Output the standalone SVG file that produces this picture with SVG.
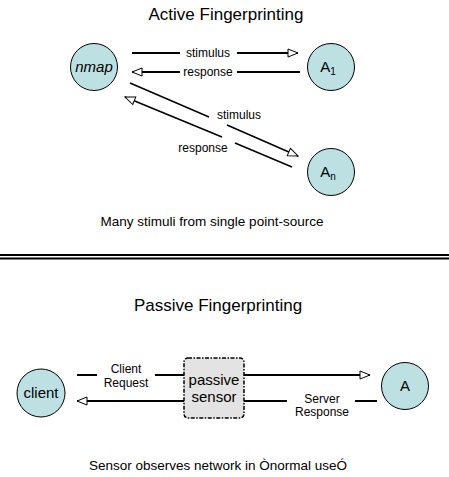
<svg xmlns="http://www.w3.org/2000/svg" width="449" height="477" viewBox="0 0 449 477">
<style>
text{font-family:"Liberation Sans",Arial,sans-serif;fill:#000}
.t{font-size:17px;text-anchor:middle}
.s{font-size:15px;text-anchor:middle}
.l{font-size:12px;text-anchor:middle}
.c{font-size:15px;text-anchor:middle}
.cap{font-size:13.5px;text-anchor:middle}
.node{fill:#bde0e3;stroke:#000;stroke-width:1}
.ln{stroke:#000;stroke-width:2;fill:none}
.ln1{stroke:#000;stroke-width:1.5;fill:none}
</style>
<defs>
<marker id="ah" markerWidth="12" markerHeight="10" refX="11" refY="5" orient="auto" markerUnits="userSpaceOnUse">
<path d="M1,1 L11,5 L1,9 Z" fill="#fff" stroke="#000" stroke-width="1"/>
</marker>
</defs>
<rect width="449" height="477" fill="#fff"/>
<text class="t" x="226" y="20">Active Fingerprinting</text>
<text class="cap" x="212" y="226">Many stimuli from single point-source</text>
<line x1="0" y1="255" x2="449" y2="255" stroke="#000" stroke-width="2"/>
<line x1="0" y1="258.5" x2="449" y2="258.5" stroke="#000" stroke-width="2"/>
<text class="t" x="218" y="311">Passive Fingerprinting</text>
<text class="cap" x="218" y="470">Sensor observes network in Ònormal useÓ</text>
<g id="connectors">
<line class="ln" x1="132" y1="53" x2="180" y2="53"/>
<line class="ln" x1="237" y1="53" x2="298" y2="53" marker-end="url(#ah)"/>
<line class="ln" x1="300" y1="72" x2="237" y2="72"/>
<line class="ln" x1="180" y1="72" x2="132" y2="72" marker-end="url(#ah)"/>
<line class="ln1" x1="130" y1="83" x2="209" y2="117"/>
<line class="ln1" x1="227" y1="125" x2="298" y2="156" marker-end="url(#ah)"/>
<line class="ln1" x1="292" y1="167" x2="235" y2="143"/>
<line class="ln1" x1="222" y1="137" x2="125" y2="97" marker-end="url(#ah)"/>
<text class="l" x="208" y="57">stimulus</text>
<text class="l" x="208" y="76">response</text>
<text class="l" x="239" y="119">stimulus</text>
<text class="l" x="203" y="152">response</text>
<line class="ln" x1="77" y1="375" x2="97" y2="375"/>
<line class="ln" x1="155" y1="375" x2="184" y2="375"/>
<line class="ln" x1="244" y1="375" x2="370" y2="375" marker-end="url(#ah)"/>
<line class="ln" x1="184" y1="401" x2="77" y2="401" marker-end="url(#ah)"/>
<line class="ln" x1="244" y1="401" x2="287" y2="401"/>
<line class="ln" x1="355" y1="401" x2="377" y2="401"/>
<text class="l" x="126" y="373">Client</text>
<text class="l" x="126" y="387">Request</text>
<text class="l" x="322" y="403">Server</text>
<text class="l" x="322" y="416">Response</text>
</g>
<g id="nmap">
<circle class="node" cx="94" cy="67" r="23.5"/>
<text class="c" x="94" y="72" font-style="italic">nmap</text>
</g>
<g id="A1">
<circle class="node" cx="331" cy="67" r="23.5"/>
<text class="c" x="328" y="72">A<tspan font-size="10" dy="3">1</tspan></text>
</g>
<g id="An">
<circle class="node" cx="331" cy="172" r="23.5"/>
<text class="c" x="328" y="177">A<tspan font-size="10" dy="3">n</tspan></text>
</g>
<g id="client">
<circle class="node" cx="41" cy="393" r="24"/>
<text class="c" x="41" y="398">client</text>
</g>
<g id="A">
<circle class="node" cx="405" cy="386" r="23.5"/>
<text class="c" x="405" y="391">A</text>
</g>
<g id="sensor">
<rect x="184" y="358" width="60" height="60" rx="4" fill="#e3e3e3" stroke="#000" stroke-width="1.5" stroke-dasharray="4,1.5,1.5,1.5"/>
<text class="s" x="214" y="385">passive</text>
<text class="s" x="214" y="402">sensor</text>
</g>
</svg>
